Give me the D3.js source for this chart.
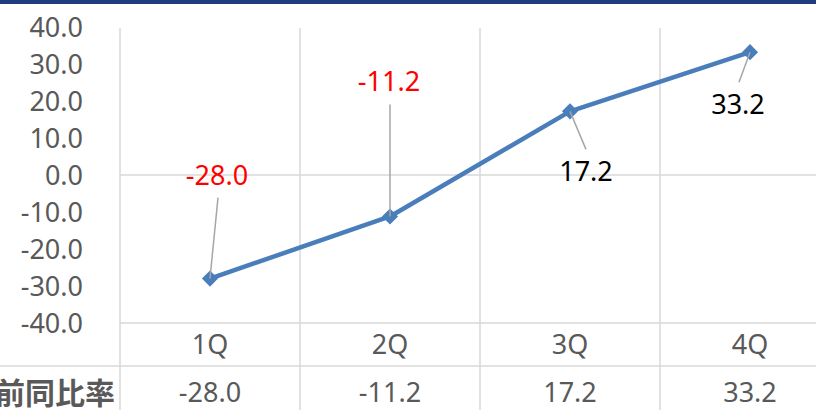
<!DOCTYPE html>
<html>
<head>
<meta charset="utf-8">
<script src="https://cdn.jsdelivr.net/npm/d3@7"></script>
<style>
  html, body { margin: 0; padding: 0; background: #fff; }
  svg { display: block; }
  text { font-family: "Noto Sans", "Noto Sans CJK JP", sans-serif; }
</style>
</head>
<body>
<svg id="chart" width="816" height="410"></svg>
<script>
// Quarterly year-on-year ratio
const categories = ["1Q", "2Q", "3Q", "4Q"];
const values = [-28.0, -11.2, 17.2, 33.2];
const yTicks = [40, 30, 20, 10, 0, -10, -20, -30, -40];
const rowLabel = "前同比率";

// Data label placement relative to each point (pixels)
const labelOffsets = [
  { dx: 7, dy: -103, lx: 8, ly: -81 },
  { dx: -1, dy: -135, lx: 0, ly: -112 },
  { dx: 16, dy: 60, lx: 16, ly: 38 },
  { dx: -12, dy: 52, lx: -11, ly: 30 }
];

const W = 816, H = 410;
const svg = d3.select("#chart");

const plotLeft = 120, plotTop = 27, plotBottom = 323;
const rowSplit = 366;

const x = d3.scaleBand().domain(categories).range([plotLeft, plotLeft + 180 * categories.length]).padding(0);
const y = d3.scaleLinear().domain([-40, 40]).range([plotBottom, plotTop]);
const cx = c => x(c) + x.bandwidth() / 2;

// one decimal, plain hyphen for negatives
const fmt = v => d3.format(".1f")(v).replace("\u2212", "-");

const grid = "#d9d9d9";
const textGray = "#595959";

// header band
svg.append("rect").attr("x", 0).attr("y", 0).attr("width", W).attr("height", 4).attr("fill", "#203c7c");

// vertical gridlines through plot and table
const vlines = [plotLeft].concat(categories.map(c => x(c) + x.bandwidth()));
svg.append("g").selectAll("line").data(vlines).join("line")
  .attr("x1", d => d).attr("x2", d => d)
  .attr("y1", plotTop + 1).attr("y2", H)
  .attr("stroke", grid).attr("stroke-width", 1.5);

// zero line
svg.append("line").attr("x1", plotLeft).attr("x2", W).attr("y1", y(0)).attr("y2", y(0))
  .attr("stroke", grid).attr("stroke-width", 1.5);

// table horizontal lines
svg.append("line").attr("x1", plotLeft).attr("x2", W).attr("y1", plotBottom).attr("y2", plotBottom)
  .attr("stroke", grid).attr("stroke-width", 1.5);
svg.append("line").attr("x1", 0).attr("x2", W).attr("y1", rowSplit).attr("y2", rowSplit)
  .attr("stroke", grid).attr("stroke-width", 1.5);

// y axis labels
const yAxis = d3.axisLeft(y).tickValues(yTicks).tickFormat(fmt).tickSize(0).tickPadding(0);
const gy = svg.append("g").attr("transform", "translate(83,0)").call(yAxis);
gy.select(".domain").remove();
gy.selectAll("text").attr("font-size", 27).attr("fill", textGray)
  .attr("font-family", "'Noto Sans', sans-serif").attr("dy", "0.35em");

// category row
const xAxis = d3.axisBottom(x).tickSize(0).tickPadding(0);
const gx = svg.append("g").attr("transform", "translate(0,345)").call(xAxis);
gx.select(".domain").remove();
gx.selectAll("text").attr("font-size", 27).attr("fill", textGray)
  .attr("font-family", "'Noto Sans', sans-serif").attr("dy", "0.35em");

// value row
svg.append("g").selectAll("text").data(values).join("text")
  .attr("x", (d, i) => cx(categories[i])).attr("y", 393)
  .attr("text-anchor", "middle").attr("dy", "0.35em")
  .attr("font-size", 27).attr("fill", textGray)
  .text(d => fmt(d));

svg.append("text").attr("x", 115).attr("y", 393).attr("dy", "0.35em")
  .attr("text-anchor", "end").attr("font-size", 30).attr("font-weight", "bold")
  .attr("font-family", "'Noto Sans CJK JP', sans-serif")
  .attr("fill", textGray).text(rowLabel);

// series line
const pts = values.map((v, i) => [cx(categories[i]), y(v)]);
svg.append("path").attr("d", d3.line()(pts))
  .attr("fill", "none").attr("stroke", "#4a7ebb").attr("stroke-width", 4.5)
  .attr("stroke-linejoin", "round");

// markers
svg.append("g").selectAll("path").data(pts).join("path")
  .attr("d", d3.symbol(d3.symbolSquare, 130)())
  .attr("transform", d => `translate(${d[0]},${d[1]}) rotate(45)`)
  .attr("fill", "#4a7ebb");

// leader lines and data labels
const lab = svg.append("g");
pts.forEach((p, i) => {
  const o = labelOffsets[i];
  lab.append("line")
    .attr("x1", p[0]).attr("y1", p[1])
    .attr("x2", p[0] + o.lx).attr("y2", p[1] + o.ly)
    .attr("stroke", "#a6a6a6").attr("stroke-width", 1.5);
  lab.append("text")
    .attr("x", p[0] + o.dx).attr("y", p[1] + o.dy).attr("dy", "0.35em")
    .attr("text-anchor", "middle").attr("font-size", 27)
    .attr("fill", values[i] < 0 ? "#ff0000" : "#000000")
    .text(fmt(values[i]));
});
</script>
</body>
</html>
